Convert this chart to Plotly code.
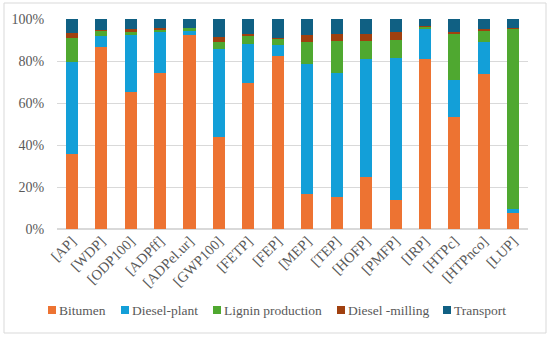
import plotly.graph_objects as go

categories = ["[AP]", "[WDP]", "[ODP100]", "[ADPff]", "[ADPel.ur]", "[GWP100]", "[FETP]", "[FEP]",
              "[MEP]", "[TEP]", "[HOFP]", "[PMFP]", "[IRP]", "[HTPc]", "[HTPnco]", "[LUP]"]

bitumen = [35.7, 86.7, 65.1, 74.3, 92.4, 44.0, 69.5, 82.3, 16.7, 15.1, 24.8, 14.0, 81.0, 53.2, 74.0, 7.8]
diesel_plant = [43.8, 5.4, 27.3, 19.4, 1.9, 41.9, 18.8, 5.3, 62.0, 59.2, 56.0, 67.3, 14.2, 17.9, 15.2, 1.6]
lignin = [11.3, 2.2, 1.6, 1.3, 1.6, 3.3, 3.8, 3.2, 10.3, 15.2, 8.9, 8.9, 1.0, 21.9, 5.1, 86.0]
diesel_milling = [2.4, 0.3, 1.2, 0.7, 0.0, 2.2, 0.9, 0.3, 3.4, 3.2, 3.2, 3.5, 0.6, 1.0, 0.8, 0.3]
transport = [6.8, 5.4, 4.8, 4.3, 4.1, 8.6, 7.0, 8.9, 7.6, 7.3, 7.1, 6.3, 3.2, 6.0, 4.9, 4.3]

y_ticks = [0, 20, 40, 60, 80, 100]
y_tick_labels = ["0%", "20%", "40%", "60%", "80%", "100%"]

series_names = ["Bitumen", "Diesel-plant", "Lignin production", "Diesel -milling", "Transport"]
series_values = [bitumen, diesel_plant, lignin, diesel_milling, transport]
series_colors = ["#ED7332", "#139FD8", "#4FA830", "#A0400F", "#106083"]

FAM = "Liberation Serif, Times New Roman, serif"
GREY = "#595959"

fig = go.Figure()
for name, vals, col in zip(series_names, series_values, series_colors):
    fig.add_trace(go.Bar(x=categories, y=vals, name=name, marker_color=col,
                         marker_line_width=0, width=0.41, showlegend=False))

# Plot-area pixel geometry (for the custom legend placed in paper coords)
L, R, T, B = 57, 528, 19, 229
W, H = R - L, B - T

def px_x(p):
    return (p - L) / W

def px_y(p):
    return (B - p) / H

legend_marker_px = [48, 121, 213, 337, 443]
shapes = [dict(type="rect", xref="paper", yref="paper", x0=px_x(4), x1=px_x(546),
               y0=px_y(333), y1=px_y(3), line=dict(color="#D9D9D9", width=1), layer="below")]
annotations = []
for name, col, mx in zip(series_names, series_colors, legend_marker_px):
    shapes.append(dict(type="rect", xref="paper", yref="paper",
                       x0=px_x(mx), x1=px_x(mx + 8), y0=px_y(314), y1=px_y(306),
                       fillcolor=col, line=dict(width=0)))
    annotations.append(dict(text=name, xref="paper", yref="paper", x=px_x(mx + 9), y=px_y(310),
                            xanchor="left", yanchor="middle", showarrow=False,
                            font=dict(family=FAM, size=13.5, color=GREY)))

fig.update_layout(
    barmode="stack",
    width=550, height=337,
    margin=dict(l=L, r=550 - R, t=T, b=337 - B),
    plot_bgcolor="white", paper_bgcolor="white",
    font=dict(family=FAM, color=GREY, size=13),
    showlegend=False,
    xaxis=dict(tickangle=-45, tickfont=dict(family=FAM, size=14.5, color=GREY),
               showgrid=False, showline=False, ticks="", automargin=False),
    yaxis=dict(range=[0, 100], tickvals=y_ticks, ticktext=y_tick_labels,
               tickfont=dict(family=FAM, size=14, color=GREY),
               ticks="outside", ticklen=9, tickcolor="rgba(0,0,0,0)",
               gridcolor="#D9D9D9", gridwidth=1, zeroline=True, zerolinecolor="#D9D9D9",
               showline=False, automargin=False),
    shapes=shapes,
    annotations=annotations,
)

fig.write_html("out.html", config={"displayModeBar": False},
               post_script="document.body.style.margin='0';document.body.style.overflow='hidden';")
